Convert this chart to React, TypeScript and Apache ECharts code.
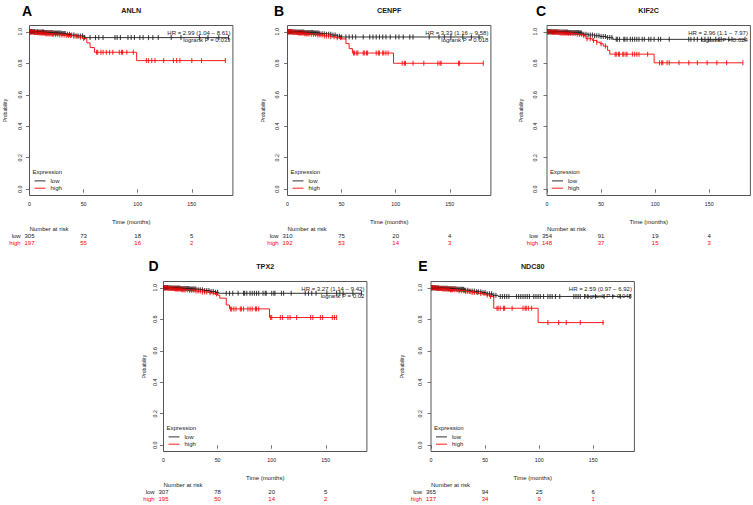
import React, { useEffect, useRef } from "react";
import * as echarts from "echarts";

// ---------- DATA ----------
const genes = ["ANLN", "CENPF", "KIF2C", "TPX2", "NDC80"];
const panelLetters = ["A", "B", "C", "D", "E"];
const hrTexts = [
  "HR = 2.99 (1.04 \u2212 8.61)",
  "HR = 3.33 (1.16 \u2212 9.58)",
  "HR = 2.96 (1.1 \u2212 7.97)",
  "HR = 3.27 (1.14 \u2212 9.42)",
  "HR = 2.59 (0.97 \u2212 6.92)",
];
const pTexts = [
  "logrank P = 0.033",
  "logrank P = 0.018",
  "logrank P = 0.024",
  "logrank P = 0.02",
  "logrank P = 0.048",
];
const xTicks = [0, 50, 100, 150];
const yTicks = [0, 0.2, 0.4, 0.6, 0.8, 1.0];
const riskTimes = [0, 50, 100, 150];

const riskLowA = [305, 73, 18, 5];
const riskHighA = [197, 55, 16, 2];
const riskLowB = [310, 75, 20, 4];
const riskHighB = [192, 53, 14, 3];
const riskLowC = [354, 91, 19, 4];
const riskHighC = [148, 37, 15, 3];
const riskLowD = [307, 78, 20, 5];
const riskHighD = [195, 50, 14, 2];
const riskLowE = [365, 94, 25, 6];
const riskHighE = [137, 34, 9, 1];

// survival steps: [time (months), survival from that time on]
const stepsLowA = [[0, 1], [6, 0.998], [14, 0.995], [22, 0.992], [30, 0.989], [34, 0.984], [38, 0.979], [43, 0.974], [51, 0.963], [184, 0.963]];
const stepsHighA = [[0, 1], [4, 0.996], [9, 0.992], [15, 0.988], [21, 0.984], [27, 0.98], [33, 0.976], [40, 0.972], [45, 0.966], [49, 0.957], [53, 0.93], [56, 0.9], [60, 0.87], [99, 0.817], [181, 0.817]];
const stepsLowB = [[0, 1], [8, 0.998], [16, 0.996], [24, 0.993], [30, 0.988], [36, 0.984], [41, 0.979], [46, 0.972], [50, 0.967], [181, 0.967]];
const stepsHighB = [[0, 1], [5, 0.996], [10, 0.992], [16, 0.988], [22, 0.984], [28, 0.979], [34, 0.974], [40, 0.968], [45, 0.962], [50, 0.955], [54, 0.925], [57, 0.893], [60, 0.865], [98, 0.8], [181, 0.8]];
const stepsLowC = [[0, 1], [10, 0.998], [20, 0.996], [30, 0.993], [33, 0.985], [38, 0.98], [44, 0.975], [49, 0.97], [55, 0.963], [61, 0.952], [183, 0.952]];
const stepsHighC = [[0, 1], [5, 0.997], [12, 0.993], [20, 0.989], [28, 0.984], [33, 0.977], [36, 0.956], [42, 0.945], [46, 0.934], [49, 0.924], [52, 0.909], [56, 0.882], [58, 0.858], [99, 0.803], [181, 0.803]];
const stepsLowD = [[0, 1], [8, 0.998], [16, 0.995], [24, 0.992], [31, 0.988], [37, 0.983], [43, 0.976], [48, 0.971], [51, 0.965], [183, 0.965]];
const stepsHighD = [[0, 1], [5, 0.996], [11, 0.992], [17, 0.988], [23, 0.984], [30, 0.979], [36, 0.974], [42, 0.968], [47, 0.961], [50, 0.953], [52, 0.934], [58, 0.891], [61, 0.866], [98, 0.811], [160, 0.811]];
const stepsLowE = [[0, 1], [8, 0.997], [16, 0.994], [24, 0.99], [31, 0.985], [36, 0.98], [41, 0.975], [47, 0.97], [51, 0.962], [57, 0.952], [62, 0.945], [184, 0.945]];
const stepsHighE = [[0, 1], [5, 0.996], [11, 0.992], [18, 0.987], [25, 0.982], [32, 0.976], [38, 0.97], [44, 0.963], [50, 0.955], [54, 0.945], [58, 0.87], [99, 0.779], [160, 0.779]];

// censoring times (months)
const censorLowA = [0.5, 1, 1.5, 2, 2.5, 3, 4, 4.5, 5, 6, 7, 7.5, 8, 9, 10, 11, 12, 12.5, 13, 14, 15, 16, 17, 18, 19, 20, 21, 22, 23, 24, 25, 26, 27, 28, 29, 30, 31, 32, 33, 35, 37, 39, 41, 43, 45, 47, 49, 51, 56, 61, 64, 68, 79, 81, 84, 91, 94, 97, 102, 105, 110, 114, 119, 131, 140, 157, 165, 175, 184];
const censorHighA = [0.5, 1, 2, 3, 4, 5, 6, 7, 8, 9, 10, 11, 12, 13, 14, 15, 16, 17, 18, 19, 20, 21, 22, 24, 26, 28, 30, 32, 34, 36, 38, 41, 44, 47, 50, 62, 63, 66, 68, 71, 74, 77, 83, 85, 86, 90, 96, 108, 110, 113, 116, 124, 133, 136, 139, 150, 159, 181];
const censorLowB = [0.5, 1, 1.5, 2, 3, 3.5, 4, 5, 6, 7, 8, 9, 10, 11, 12, 13, 14, 15, 16, 17, 18, 19, 20, 21, 22, 23, 24, 25, 26, 27, 28, 29, 30, 32, 34, 36, 38, 40, 42, 44, 46, 48, 50, 54, 57, 60, 63, 70, 76, 79, 82, 85, 88, 91, 95, 100, 103, 107, 113, 116, 131, 140, 145, 151, 162, 170, 177];
const censorHighB = [0.5, 1, 2, 3, 4, 5, 6, 7, 8, 9, 10, 11, 12, 13, 14, 15, 16, 17, 18, 19, 20, 22, 24, 26, 28, 30, 32, 34, 36, 38, 40, 43, 46, 49, 61, 62, 64, 65, 70, 71, 73, 74, 82, 84, 85, 88, 89, 91, 93, 106, 108, 109, 116, 126, 139, 141, 142, 158, 159, 181];
const censorLowC = [0.5, 1, 1.5, 2, 3, 3.5, 4, 5, 6, 7, 8, 9, 10, 11, 12, 13, 14, 15, 16, 17, 18, 19, 20, 21, 22, 23, 24, 25, 26, 27, 28, 29, 30, 31, 32, 34, 36, 38, 40, 42, 44, 46, 48, 50, 52, 54, 56, 58, 60, 64, 65, 67, 71, 72, 74, 77, 79, 81, 83, 85, 88, 90, 94, 96, 99, 103, 105, 113, 131, 133, 136, 139, 143, 146, 149, 151, 156, 159, 161, 168, 171, 183];
const censorHighC = [0.5, 1, 2, 3, 4, 5, 6, 7, 8, 9, 10, 11, 12, 13, 14, 15, 16, 17, 18, 19, 20, 22, 24, 26, 28, 30, 32, 34, 37, 40, 43, 46, 50, 54, 63, 64, 66, 67, 70, 71, 73, 74, 79, 81, 83, 85, 93, 104, 106, 107, 111, 113, 122, 131, 139, 148, 157, 166, 181];
const censorLowD = [0.5, 1, 1.5, 2, 3, 3.5, 4, 5, 6, 7, 8, 9, 10, 11, 12, 13, 14, 15, 16, 17, 18, 19, 20, 21, 22, 23, 24, 25, 26, 27, 28, 29, 30, 32, 34, 36, 38, 40, 42, 44, 46, 48, 50, 58, 61, 64, 69, 74, 75, 77, 80, 82, 84, 86, 88, 92, 94, 95, 100, 102, 103, 109, 111, 118, 131, 134, 137, 141, 151, 160, 163, 166, 175, 183];
const censorHighD = [0.5, 1, 2, 3, 4, 5, 6, 7, 8, 9, 10, 11, 12, 13, 14, 15, 16, 17, 18, 19, 20, 22, 24, 26, 28, 30, 32, 34, 36, 38, 40, 43, 46, 49, 62, 63, 65, 67, 71, 72, 74, 78, 80, 82, 85, 86, 88, 99, 100, 108, 110, 115, 117, 123, 136, 138, 145, 147, 156, 158, 160];
const censorLowE = [0.5, 1, 1.5, 2, 3, 3.5, 4, 5, 6, 7, 8, 9, 10, 11, 12, 13, 14, 15, 16, 17, 18, 19, 20, 21, 22, 23, 24, 25, 26, 27, 28, 29, 30, 31, 32, 34, 36, 38, 40, 42, 44, 46, 48, 50, 52, 54, 56, 58, 60, 64, 66, 68, 70, 72, 79, 81, 83, 85, 87, 89, 91, 95, 97, 99, 101, 104, 108, 110, 112, 115, 119, 132, 134, 136, 138, 142, 145, 152, 160, 168, 175, 184];
const censorHighE = [0.5, 1, 2, 3, 4, 5, 6, 7, 8, 9, 10, 11, 12, 13, 14, 15, 16, 17, 18, 19, 20, 22, 24, 26, 28, 30, 32, 34, 36, 38, 40, 43, 46, 49, 52, 55, 61, 62, 64, 67, 68, 75, 85, 87, 88, 90, 93, 108, 118, 125, 138, 159];

// ---------- LAYOUT (pixels) ----------
const FONT = "'Liberation Sans', Arial, Helvetica, sans-serif";
const BOX_W = 203.4;
const BOX_H = 170;
const X_MAX = 188;
const layout = [
  { left: 29.5, top: 25.5, yLabelMargin: 7.3, yNameGap: 24.5, letterX: 27, letterY: 10.5 },
  { left: 287.5, top: 25.5, yLabelMargin: 8.1, yNameGap: 25, letterX: 279, letterY: 10.5 },
  { left: 547, top: 25.5, yLabelMargin: 9.3, yNameGap: 26.5, letterX: 541, letterY: 10.5 },
  { left: 163.5, top: 281.5, yLabelMargin: 5.8, yNameGap: 19.5, letterX: 153.5, letterY: 266 },
  { left: 431, top: 281.5, yLabelMargin: 8.3, yNameGap: 29.5, letterX: 423, letterY: 266 },
];

const LOW_COLOR = "#1a1a1a";
const HIGH_COLOR = "#ff0000";

const panelSteps = [
  [stepsLowA, stepsHighA],
  [stepsLowB, stepsHighB],
  [stepsLowC, stepsHighC],
  [stepsLowD, stepsHighD],
  [stepsLowE, stepsHighE],
];
const panelCensor = [
  [censorLowA, censorHighA],
  [censorLowB, censorHighB],
  [censorLowC, censorHighC],
  [censorLowD, censorHighD],
  [censorLowE, censorHighE],
];
const panelRisk = [
  [riskLowA, riskHighA],
  [riskLowB, riskHighB],
  [riskLowC, riskHighC],
  [riskLowD, riskHighD],
  [riskLowE, riskHighE],
];

function survAt(steps: number[][], t: number): number {
  let s = steps[0][1];
  for (const p of steps) {
    if (p[0] <= t) s = p[1];
  }
  return s;
}

function txt(text: string, x: number, y: number, opts: any = {}) {
  const align = opts.align || "left";
  const valign = opts.valign || "middle";
  return {
    type: "text",
    silent: true,
    style: {
      text,
      x,
      y,
      fill: opts.color || "#1a1a1a",
      fontSize: opts.size || 6,
      fontFamily: FONT,
      fontWeight: opts.weight || "normal",
      align,
      textAlign: align,
      verticalAlign: valign,
      textVerticalAlign: valign,
    },
  };
}

function buildOption() {
  const grids: any[] = [];
  const xAxes: any[] = [];
  const yAxes: any[] = [];
  const series: any[] = [];
  const graphics: any[] = [];

  layout.forEach((L, i) => {
    const bottom = L.top + BOX_H;
    const right = L.left + BOX_W;
    grids.push({
      left: L.left,
      top: L.top,
      width: BOX_W,
      height: BOX_H,
      show: true,
      borderColor: "#555",
      borderWidth: 1,
      backgroundColor: "transparent",
      containLabel: false,
    });
    const axisBase = {
      gridIndex: i,
      type: "value",
      min: 0,
      max: X_MAX,
      splitLine: { show: false },
      axisLine: { show: false },
    };
    // main x axis
    xAxes.push({
      ...axisBase,
      position: "bottom",
      axisTick: { show: true, length: 3.5, lineStyle: { color: "#555", width: 0.8 }, customValues: xTicks },
      axisLabel: {
        show: true,
        customValues: xTicks,
        fontSize: 5.3,
        fontFamily: FONT,
        color: "#1a1a1a",
        margin: 6,
        formatter: (v: number) => String(v),
      },
      name: "Time (months)",
      nameLocation: "middle",
      nameGap: 26,
      nameTextStyle: { fontSize: 6, fontFamily: FONT, color: "#1a1a1a", verticalAlign: "middle" },
    });
    // risk table rows as extra axes
    const [riskLow, riskHigh] = panelRisk[i];
    [
      { vals: riskLow, off: 40.2, color: "#1a1a1a" },
      { vals: riskHigh, off: 47.6, color: HIGH_COLOR },
    ].forEach((r) => {
      xAxes.push({
        ...axisBase,
        position: "bottom",
        offset: r.off,
        axisTick: { show: false },
        axisLabel: {
          show: true,
          customValues: riskTimes,
          fontSize: 6,
          fontFamily: FONT,
          color: r.color,
          margin: 0,
          verticalAlign: "middle",
          formatter: (v: number) => String(r.vals[riskTimes.indexOf(v)]),
        },
      });
    });
    yAxes.push({
      gridIndex: i,
      type: "value",
      min: -0.04,
      max: 1.04,
      splitLine: { show: false },
      axisLine: { show: false },
      axisTick: { show: true, length: 3.5, lineStyle: { color: "#555", width: 0.8 }, customValues: yTicks },
      axisLabel: {
        show: true,
        customValues: yTicks,
        rotate: 90,
        fontSize: 5.3,
        fontFamily: FONT,
        color: "#1a1a1a",
        margin: L.yLabelMargin,
        formatter: (v: number) => v.toFixed(1),
      },
      name: "Probability",
      nameLocation: "middle",
      nameGap: L.yNameGap,
      nameTextStyle: { fontSize: 5, fontFamily: FONT, color: "#1a1a1a", verticalAlign: "middle" },
    });

    const xIdx = i * 3;
    const [sLow, sHigh] = panelSteps[i];
    const [cLow, cHigh] = panelCensor[i];
    [
      { steps: sLow, cens: cLow, color: LOW_COLOR, name: "low" },
      { steps: sHigh, cens: cHigh, color: HIGH_COLOR, name: "high" },
    ].forEach((c) => {
      series.push({
        type: "line",
        name: c.name,
        xAxisIndex: xIdx,
        yAxisIndex: i,
        step: "end",
        showSymbol: false,
        symbol: "none",
        silent: true,
        lineStyle: { color: c.color, width: 0.9 },
        data: c.steps,
      });
      series.push({
        type: "scatter",
        name: c.name + " censored",
        xAxisIndex: xIdx,
        yAxisIndex: i,
        symbol: "rect",
        symbolSize: [1.1, 5],
        silent: true,
        itemStyle: { color: c.color },
        data: c.cens.map((t) => [t, survAt(c.steps, t)]),
      });
    });

    // panel letter & title
    graphics.push(txt(panelLetters[i], L.letterX, L.letterY, { size: 14, weight: "bold", align: "center", color: "#000" }));
    graphics.push(txt(genes[i], L.left + BOX_W / 2, L.top - 15.5, { size: 7.2, weight: "bold", align: "center" }));
    // HR / logrank
    graphics.push(txt(hrTexts[i], right - 2.5, L.top + 7.8, { size: 6, align: "right" }));
    graphics.push(txt(pTexts[i], right - 2.5, L.top + 14.6, { size: 6, align: "right" }));
    // legend
    graphics.push(txt("Expression", L.left + 3, bottom - 23.7, { size: 6 }));
    graphics.push({
      type: "line",
      silent: true,
      shape: { x1: L.left + 5, y1: bottom - 14.6, x2: L.left + 16, y2: bottom - 14.6 },
      style: { stroke: LOW_COLOR, lineWidth: 0.9 },
    });
    graphics.push({
      type: "line",
      silent: true,
      shape: { x1: L.left + 5, y1: bottom - 7.3, x2: L.left + 16, y2: bottom - 7.3 },
      style: { stroke: HIGH_COLOR, lineWidth: 0.9 },
    });
    graphics.push(txt("low", L.left + 21, bottom - 14.6, { size: 6 }));
    graphics.push(txt("high", L.left + 21, bottom - 7.3, { size: 6 }));
    // number at risk labels
    graphics.push(txt("Number at risk", L.left, bottom + 33.5, { size: 6 }));
    graphics.push(txt("low", L.left - 8.8, bottom + 40.2, { size: 6, align: "right" }));
    graphics.push(txt("high", L.left - 8.8, bottom + 47.6, { size: 6, align: "right", color: HIGH_COLOR }));
  });

  return {
    animation: false,
    backgroundColor: "#ffffff",
    textStyle: { fontFamily: FONT },
    grid: grids,
    xAxis: xAxes,
    yAxis: yAxes,
    series,
    graphic: graphics,
  };
}

export default function App() {
  const ref = useRef<HTMLDivElement>(null);
  useEffect(() => {
    if (!ref.current) return;
    const chart = echarts.init(ref.current, undefined, { renderer: "svg" });
    chart.setOption(buildOption() as any);
    return () => chart.dispose();
  }, []);
  return (
    <div
      ref={ref}
      style={{ position: "absolute", left: 0, top: 0, width: 753, height: 505, background: "#fff" }}
    />
  );
}
